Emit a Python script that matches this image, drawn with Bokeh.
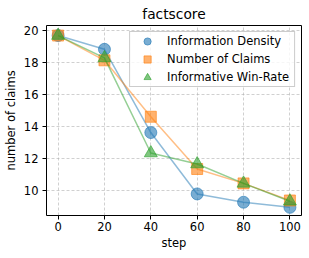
from bokeh.plotting import figure
from bokeh.embed import file_html
from bokeh.resources import INLINE
from bokeh.models import Range1d, FixedTicker, Legend, LegendItem

steps = [0, 20, 40, 60, 80, 100]
info_density = [19.7, 18.84, 13.63, 9.79, 9.27, 8.95]
num_claims = [19.7, 18.15, 14.62, 11.35, 10.45, 9.38]
win_rate = [19.7, 18.3, 12.35, 11.66, 10.45, 9.33]
series_names = ["Information Density", "Number of Claims", "Informative Win-Rate"]
colors = ["#1f77b4", "#ff7f0e", "#2ca02c"]
x_ticks = [0, 20, 40, 60, 80, 100]
y_ticks = [10, 12, 14, 16, 18, 20]

FONT = "DejaVu Sans"

p = figure(frame_width=255, frame_height=190, output_backend="svg", toolbar_location=None,
           x_range=Range1d(-5, 105), y_range=Range1d(8.44, 20.33),
           min_border_left=46, min_border_right=8, min_border_bottom=42, min_border_top=25)

p.title.text = "factscore"
p.title.align = "center"
p.title.text_font = FONT
p.title.text_font_size = "13.8px"
p.title.text_font_style = "normal"
p.title.text_color = "black"
p.title.standoff = 7

p.outline_line_color = "black"
p.outline_line_width = 1
p.background_fill_color = "white"
p.border_fill_color = "white"

for ax in (p.xaxis, p.yaxis):
    ax.axis_line_color = None
    ax.major_tick_in = 0
    ax.major_tick_out = 4
    ax.major_tick_line_color = "black"
    ax.minor_tick_line_color = None
    ax.major_label_text_font = FONT
    ax.major_label_text_font_size = "11.5px"
    ax.major_label_text_color = "black"
    ax.axis_label_text_font = FONT
    ax.axis_label_text_font_size = "11.5px"
    ax.axis_label_text_font_style = "normal"
    ax.axis_label_text_color = "black"
    ax.major_label_standoff = 2

p.xaxis.ticker = FixedTicker(ticks=x_ticks)
p.yaxis.ticker = FixedTicker(ticks=y_ticks)
p.xaxis.axis_label = "step"
p.yaxis.axis_label = "number of claims"
p.xaxis.axis_label_standoff = 2
p.yaxis.axis_label_standoff = 3
p.yaxis.major_label_standoff = 4

p.grid.grid_line_color = "#b0b0b0"
p.grid.grid_line_dash = "3 2"
p.grid.grid_line_alpha = 0.6

items = []
data = [info_density, num_claims, win_rate]
markers = ["circle", "square", "triangle"]
sizes = [12, 11, 13]
for name, vals, c, m, s in zip(series_names, data, colors, markers, sizes):
    ln = p.line(steps, vals, line_color=c, line_alpha=0.5, line_width=1.5)
    sc = p.scatter(steps, vals, marker=m, size=s,
                   fill_color=c, fill_alpha=0.6, line_color=c, line_alpha=0.6)
    items.append(LegendItem(label=name, renderers=[sc]))

legend = Legend(items=items, location="top_right")
legend.label_text_font = FONT
legend.label_text_font_size = "11.5px"
legend.label_text_color = "black"
legend.border_line_color = "#cccccc"
legend.border_line_alpha = 1
legend.background_fill_alpha = 0.8
legend.margin = 6
legend.spacing = 0
legend.label_height = 18
legend.glyph_height = 18
legend.glyph_width = 34
legend.label_standoff = 3
legend.label_width = 120
try:
    legend.padding = dict(left=0, right=5, top=0, bottom=0)
except ValueError:
    legend.padding = 1
p.add_layout(legend)

open("out.html", "w").write(file_html(p, INLINE))
